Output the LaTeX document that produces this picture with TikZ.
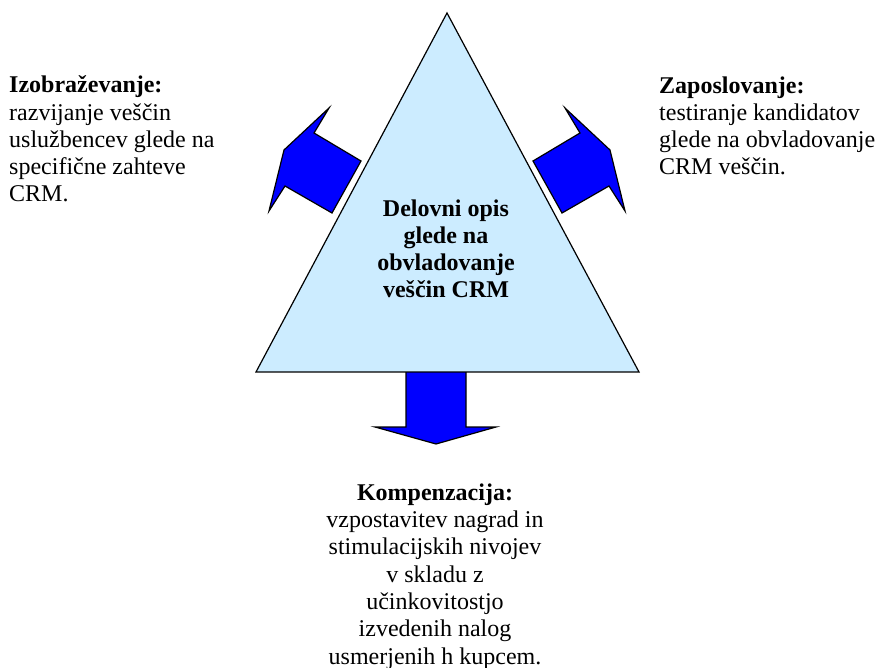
\documentclass[tikz,border=0pt]{standalone}
\usepackage{fontspec}
\setmainfont{Liberation Serif}
\definecolor{trifill}{RGB}{204,236,255}
\definecolor{arrowblue}{RGB}{0,0,255}
\begin{document}
\begin{tikzpicture}[x=1pt,y=-1pt,
  shapeline/.style={draw=black,line width=1.2pt,line join=miter},
  blockarrow/.style={shapeline,fill=arrowblue},
  txt/.style={inner sep=0pt,font=\fontsize{24}{27.3}\selectfont},
  sidetext/.style={txt,align=left,anchor=base west},
  midtext/.style={txt,align=center,anchor=base}]
\useasboundingbox (0,0) rectangle (876,668);

% block arrows
\draw[blockarrow] (329,108) -- (314,133) -- (361,161) -- (332,213) -- (285,186)
  -- (269,211) -- (284,150) -- cycle;
\draw[blockarrow] (565,108) -- (580,133) -- (533,161) -- (562,213) -- (609,186)
  -- (625,211) -- (610,150) -- cycle;
\draw[blockarrow] (406,365) -- (466,365) -- (466,427) -- (496,427) -- (436,444)
  -- (375,427) -- (406,427) -- cycle;

% central triangle
\draw[shapeline,fill=trifill] (447,13) -- (639,372) -- (256,372) -- cycle;
% multi-line nodes are placed by the baseline of their last line
\node[midtext,font=\fontsize{24}{27.3}\selectfont\bfseries] (core) at (446,298)
  {Delovni opis\\glede na\\obvladovanje\\veščin CRM};

% labels
\node[sidetext] (izob) at (9,202)
  {\textbf{Izobraževanje:}\\razvijanje veščin\\uslužbencev glede na\\specifične zahteve\\CRM.};
\node[sidetext] (zap) at (659,175)
  {\textbf{Zaposlovanje:}\\testiranje kandidatov\\glede na obvladovanje\\CRM veščin.};
\node[midtext] (komp) at (435,664)
  {\textbf{Kompenzacija:}\\vzpostavitev nagrad in\\stimulacijskih nivojev\\v skladu z\\učinkovitostjo\\izvedenih nalog\\usmerjenih h kupcem.};
\end{tikzpicture}
\end{document}
